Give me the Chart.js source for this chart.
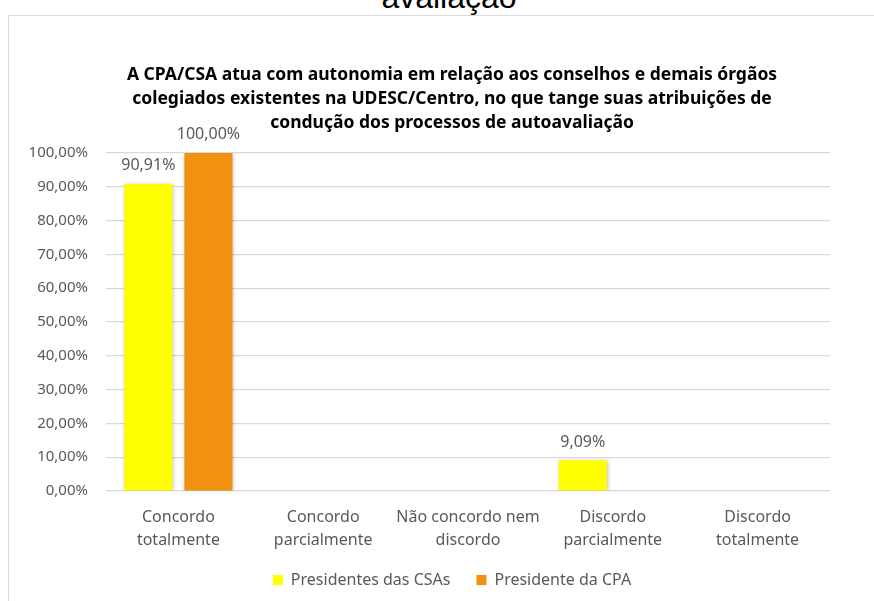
<!DOCTYPE html>
<html lang="pt-BR">
<head>
<meta charset="utf-8"/>
<title>Autonomia da CPA/CSA</title>
<script src="https://cdn.jsdelivr.net/npm/chart.js"></script>
<style>
    body { margin: 0; background: #fff; overflow: hidden; }
    .wrap { position: relative; width: 874px; height: 601px; overflow: hidden; }
    .topo { position: absolute; left: 24px; width: 850px; top: -21px; text-align: center;
            font-family: "Liberation Sans", Arial, sans-serif; font-size: 32px; color: #000; }
    .frame { position: absolute; left: 8px; top: 15px; width: 900px; height: 700px;
             border: 1.5px solid #d9d9d9; }
    canvas { position: absolute; left: 0; top: 0; }
  </style>
</head>
<body>
<div class="wrap">
<div class="topo">avaliação</div>
<div class="frame"></div>
<canvas id="grafico" width="874" height="601"></canvas>
</div>
<script>
    const categorias = [
      ['Concordo', 'totalmente'],
      ['Concordo', 'parcialmente'],
      ['Não concordo nem', 'discordo'],
      ['Discordo', 'parcialmente'],
      ['Discordo', 'totalmente']
    ];
    const presidentesCSAs = [90.91, 0, 0, 9.09, 0];
    const presidenteCPA = [100, 0, 0, 0, 0];
    const titulo = [
      'A CPA/CSA atua com autonomia em relação aos conselhos e demais órgãos',
      'colegiados existentes na UDESC/Centro, no que tange suas atribuições de',
      'condução dos processos de autoavaliação'
    ];

    const fmt = v => v.toFixed(2).replace('.', ',') + '%';
    const cinza = '#595959';
    const fonte = '"Noto Sans", sans-serif';

    // rótulos acima das barras (só valores > 0)
    const rotulos = {
      id: 'rotulos',
      afterDatasetsDraw(chart) {
        const ctx = chart.ctx;
        ctx.save();
        ctx.font = '16px ' + fonte;
        ctx.fillStyle = cinza;
        ctx.textAlign = 'center';
        ctx.textBaseline = 'bottom';
        chart.data.datasets.forEach((ds, i) => {
          chart.getDatasetMeta(i).data.forEach((bar, j) => {
            if (ds.data[j] > 0) ctx.fillText(fmt(ds.data[j]), bar.x, bar.y - 10);
          });
        });
        ctx.restore();
      }
    };

    // sombra leve nas barras
    const sombra = {
      id: 'sombra',
      beforeDatasetsDraw(chart) {
        const ctx = chart.ctx;
        ctx.save();
        ctx.shadowColor = 'rgba(0,0,0,0.25)';
        ctx.shadowBlur = 4;
        ctx.shadowOffsetX = 1;
        ctx.shadowOffsetY = 1;
      },
      afterDatasetsDraw(chart) { chart.ctx.restore(); }
    };

    // no Excel o título e a legenda ficam centrados no quadro todo, não na área do gráfico;
    // a legenda desce um pouco e os rótulos do eixo x podem ocupar o espaço livre
    const ajustar = {
      id: 'ajustar',
      afterLayout(chart) {
        const dx = 32;
        [chart.titleBlock, chart.legend].forEach(b => {
          if (!b) return;
          b.left += dx;
          b.right += dx;
        });
        chart.legend.top += 3;
        chart.legend.bottom += 3;
        chart.scales.x.bottom = chart.scales.x.top + 70;
      }
    };

    new Chart(document.getElementById('grafico'), {
      type: 'bar',
      data: {
        labels: categorias,
        datasets: [
          { label: 'Presidentes das CSAs', data: presidentesCSAs, backgroundColor: '#FFFF00' },
          { label: 'Presidente da CPA', data: presidenteCPA, backgroundColor: '#F0920F' }
        ]
      },
      options: {
        responsive: false,
        animation: false,
        categoryPercentage: 0.83,
        barPercentage: 0.8,
        layout: { padding: { left: 10, right: 44, top: 0, bottom: 6 } },
        scales: {
          x: {
            grid: { display: false },
            border: { display: false },
            ticks: { color: cinza, font: { family: fonte, size: 16, lineHeight: 1.45 }, padding: 7,
                     maxRotation: 0, autoSkip: false },
            afterFit: s => { s.height = 52; }
          },
          y: {
            min: 0, max: 100,
            ticks: { stepSize: 10, color: cinza, font: { family: fonte, size: 15 }, padding: 18,
                     callback: v => fmt(v) },
            grid: { color: '#d9d9d9', lineWidth: 1.2, drawTicks: false },
            border: { display: false },
            afterFit: s => { s.width = 96; }
          }
        },
        plugins: {
          title: {
            display: true,
            text: titulo,
            color: '#000',
            font: { family: fonte, size: 17.5, weight: 'bold', lineHeight: 1.37 },
            padding: { top: 63, bottom: 18 }
          },
          legend: {
            position: 'bottom',
            labels: { color: cinza, font: { family: fonte, size: 16 }, boxWidth: 10, boxHeight: 10, padding: 26 }
          },
          tooltip: { enabled: false }
        }
      },
      plugins: [sombra, rotulos, ajustar]
    });
  </script>
</body>
</html>
